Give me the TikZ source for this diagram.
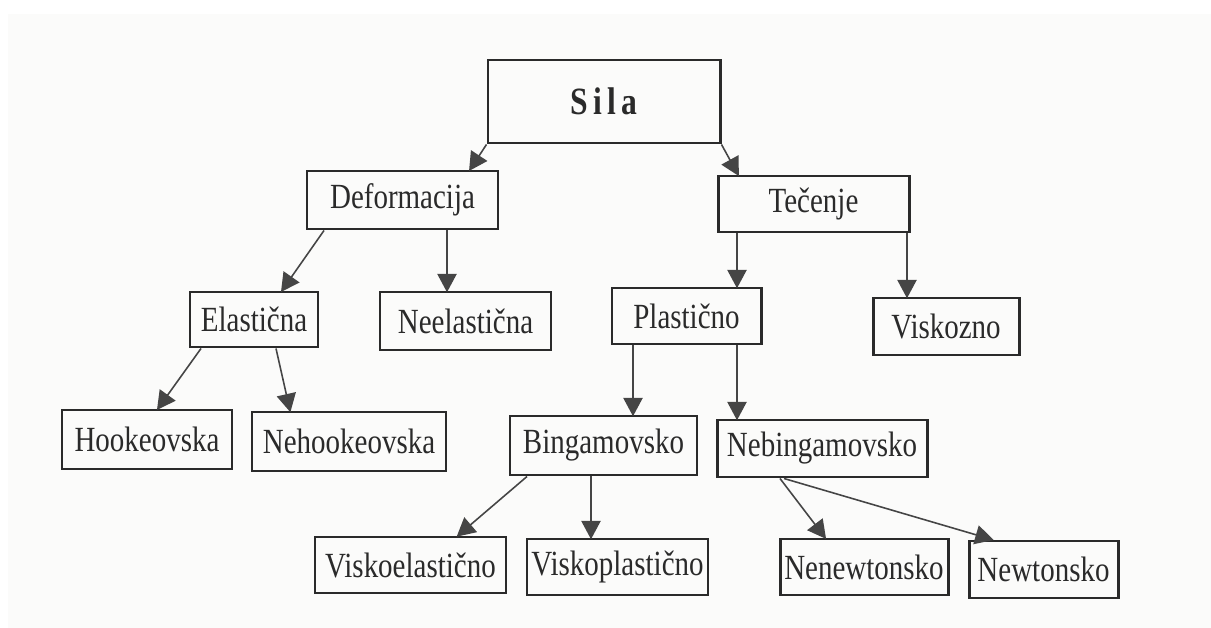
\documentclass[tikz,border=0pt]{standalone}
\usepackage{fontspec}
\usepackage{graphicx}
\setmainfont{Liberation Serif}
\usetikzlibrary{arrows.meta}
\definecolor{ink}{HTML}{2A2A2A}
\definecolor{arr}{HTML}{454545}
\definecolor{paper}{HTML}{FBFBFA}
\tikzset{
  box/.style={draw=ink, line width=1.7pt, rectangle, inner sep=0pt, text=ink,
    font=\fontsize{16.5}{19}\selectfont},
  link/.style={draw=arr, line width=0.9pt,
    -{Triangle[length=10.5pt, width=11pt, fill=arr]}, shorten >=-1pt}
}
\newcommand{\tall}[1]{\scalebox{1}[1.22]{#1}}
\newcommand{\bx}[7]{% name, x1, y1, x2, y2, text, extra
  \node[box, minimum width={(#4-#2)*0.02cm}, minimum height={(#5-#3)*0.02cm}, #7]
    (#1) at ({(#2+#4)/2},{(#3+#5)/2}) {\tall{#6}};}
\begin{document}
\begin{tikzpicture}[x=0.02cm, y=-0.02cm]
\useasboundingbox (0,0) rectangle (1211,628);
\fill[white] (0,0) rectangle (1211,628);
\fill[paper] (8,14) rectangle (1211,628);

\bx{sila}{488}{60}{720}{143}{\textbf{S\,i\,l\,a}}{font=\fontsize{18}{21}\selectfont}
\bx{def}{307}{171}{498}{229}{Deformacija}{}
\bx{tec}{718}{176}{909}{232}{Tečenje}{}
\bx{ela}{190}{292}{318}{347}{Elastična}{}
\bx{neel}{380}{292}{551}{350}{Neelastična}{}
\bx{pla}{612}{288}{761}{344}{Plastično}{}
\bx{visk}{873}{298}{1019}{355}{Viskozno}{}
\bx{hook}{62}{410}{232}{469}{Hookeovska}{}
\bx{nehook}{252}{412}{446}{471}{Nehookeovska}{}
\bx{bing}{510}{416}{697}{475}{Bingamovsko}{}
\bx{nebing}{717}{420}{927}{477}{Nebingamovsko}{}
\bx{viskoel}{315}{537}{506}{593}{Viskoelastično}{}
\bx{viskopl}{527}{539}{708}{595}{Viskoplastično}{}
\bx{nenewt}{780}{539}{948}{595}{Nenewtonsko}{}
\bx{newt}{969}{541}{1118}{598}{Newtonsko}{}

\draw[link] (sila.south west) -- (def.north -| 470,0);
\draw[link] (sila.south east) -- (tec.north -| 738,0);
\draw[link] (def.south -| 324,0) -- (ela.north -| 282,0);
\draw[link] (def.south -| 447,0) -- (neel.north -| 447,0);
\draw[link] (tec.south -| 737,0) -- (pla.north -| 737,0);
\draw[link] (tec.south -| 907,0) -- (visk.north -| 907,0);
\draw[link] (ela.south -| 201,0) -- (hook.north -| 158,0);
\draw[link] (ela.south -| 276,0) -- (nehook.north -| 290,0);
\draw[link] (pla.south -| 633,0) -- (bing.north -| 633,0);
\draw[link] (pla.south -| 737,0) -- (nebing.north -| 737,0);
\draw[link] (bing.south -| 527,0) -- (viskoel.north -| 458,0);
\draw[link] (bing.south -| 591,0) -- (viskopl.north -| 591,0);
\draw[link] (nebing.south -| 780,0) -- (nenewt.north -| 825,0);
\draw[link] (nebing.south -| 784,0) -- (newt.north -| 992,0);
\end{tikzpicture}
\end{document}
